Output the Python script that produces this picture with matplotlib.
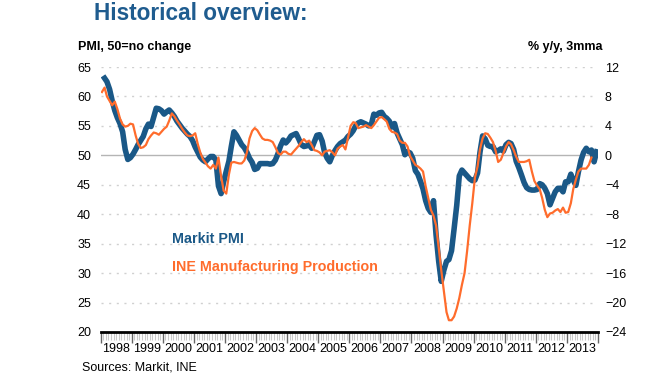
import matplotlib
matplotlib.use('Agg')
import matplotlib.pyplot as plt
import matplotlib.dates as mdates
import matplotlib.transforms as mtransforms
import numpy as np
import pandas as pd

plt.rcParams['font.family'] = ['Liberation Sans', 'DejaVu Sans']

# Markit Spain manufacturing PMI, monthly from Feb 1998
pmi = [63.1, 62.5, 61.2, 59.3, 57.6, 56.4, 55.4, 54.0, 51.0, 49.3,
       49.6, 50.2, 51.0, 51.8, 52.5, 53.2, 54.5, 55.3, 54.9, 56.5,
       58.0, 57.9, 57.6, 57.0, 57.4, 57.7, 57.2, 56.6, 55.8, 55.2,
       54.6, 54.1, 53.6, 53.2, 52.5, 51.4, 50.5, 49.7, 49.2, 48.9,
       49.4, 49.8, 49.8, 49.2, 44.8, 43.5, 45.5, 47.3, 49.0, 51.5,
       54.0, 53.4, 52.6, 51.8, 51.3, 50.5, 49.5, 48.8, 47.6, 47.8,
       48.6, 48.6, 48.6, 48.6, 48.5, 48.6, 49.2, 50.3, 51.6, 52.6,
       52.1, 52.6, 53.3, 53.5, 53.7, 52.8, 51.8, 51.5, 51.6, 51.8,
       51.2, 52.3, 53.4, 53.5, 52.4, 50.5, 49.5, 48.9, 50.0, 50.8,
       51.5, 52.0, 52.3, 52.6, 53.2, 53.6, 54.2, 55.0, 55.5, 55.7,
       55.5, 55.3, 55.0, 55.2, 57.0, 56.8, 57.2, 57.3, 56.6, 56.3,
       55.8, 54.8, 55.4, 53.8, 52.8, 51.8, 50.1, 50.6, 50.4, 49.5,
       47.4, 46.8, 45.6, 44.3, 42.3, 41.0, 40.3, 42.3, 36.5, 32.0,
       28.6, 30.5, 32.0, 32.3, 33.8, 37.5, 41.5, 46.5, 47.5, 47.0,
       46.5, 46.0, 45.7, 45.8, 47.0, 50.5, 53.3, 52.8, 51.7, 51.5,
       51.5, 50.6, 50.8, 51.1, 50.7, 51.8, 52.2, 52.0, 51.0, 49.0,
       47.9, 46.7, 45.4, 44.5, 44.2, 44.1, 44.1, 44.2, 45.2, 45.0,
       44.4, 43.5, 41.6, 42.7, 43.8, 44.4, 44.4, 43.8, 45.5, 45.5,
       46.8, 45.8, 44.9, 47.2, 49.2, 50.5, 51.2, 50.6, 50.9, 48.9, 50.6]

# INE manufacturing production, % y/y 3mma, monthly from Jan 1998
ine = [8.6, 9.2, 8.0, 7.4, 6.8, 7.3, 6.3, 5.0, 4.2, 3.9,
       4.0, 4.3, 4.2, 2.7, 1.6, 1.0, 1.1, 1.4, 2.2, 2.7,
       3.1, 3.0, 2.8, 3.2, 3.6, 3.9, 4.7, 5.7, 5.3, 4.7,
       4.2, 3.6, 3.1, 2.7, 2.6, 2.7, 3.0, 1.5, 0.4, -0.5,
       -1.0, -1.5, -1.8, -1.3, -1.8, -0.3, -2.8, -4.8, -5.2, -2.6,
       -1.0, -0.9, -1.0, -1.1, -1.1, -0.7, 0.4, 2.3, 3.3, 3.7,
       3.4, 2.8, 2.3, 2.1, 2.1, 2.0, 1.8, 1.1, 0.3, 0.1,
       0.5, 0.5, 0.2, 0.1, 0.5, 0.9, 1.3, 1.8, 2.2, 1.8,
       2.0, 1.4, 0.7, 0.6, 0.4, 0.0, 0.5, 0.6, 0.7, 0.4,
       0.0, 0.9, 1.2, 1.4, 0.8, 2.4, 4.0, 4.5, 4.4, 3.7,
       3.8, 3.9, 4.1, 3.9, 3.7, 4.1, 4.6, 5.1, 5.2, 4.9,
       4.6, 3.6, 3.2, 3.1, 2.9, 2.0, 1.7, 1.7, 1.2, -0.1,
       -0.7, -1.3, -1.5, -1.8, -2.2, -4.2, -5.8, -7.4, -8.2, -9.5,
       -12.5, -15.6, -18.5, -21.3, -22.4, -22.4, -21.9, -20.8, -19.4, -17.6,
       -16.0, -13.0, -9.5, -6.5, -3.0, -1.5, 0.8, 2.3, 3.0, 2.9,
       2.4, 1.8, 0.6, -0.9, -0.6, 0.3, 1.2, 1.8, 1.5, 0.7,
       -0.2, -0.9, -0.9, -0.9, -0.8, -0.6, -2.2, -3.5, -4.1, -4.6,
       -5.8, -7.4, -8.4, -7.9, -7.8, -7.5, -7.3, -7.7, -7.1, -7.8,
       -7.7, -6.5, -4.6, -3.3, -2.2, -1.8, -1.8, -1.8, -1.3, -0.3]

years = [str(y) for y in range(1998, 2014)]
left_ticks = [20, 25, 30, 35, 40, 45, 50, 55, 60, 65]
right_ticks = [-24, -20, -16, -12, -8, -4, 0, 4, 8, 12]

c_blue = '#1A5887'
c_orange = '#FF6C2C'
c_title = '#1F5C8F'

pmi_dates = pd.date_range('1998-02-01', periods=len(pmi), freq='MS') + pd.Timedelta(days=15)
ine_dates = pd.date_range('1998-01-01', periods=len(ine), freq='MS') + pd.Timedelta(days=15)

fig = plt.figure(figsize=(6.68, 3.82), dpi=100)
ax = fig.add_axes([0.1507, 0.1309, 0.7445, 0.6937])
ax2 = ax.twinx()

ax.set_ylim(20, 65)
ax2.set_ylim(-24, 12)
ax.set_xlim(pd.Timestamp('1998-01-01'), pd.Timestamp('2014-01-01'))

# grid
for v in left_ticks[1:]:
    if v == 50:
        ax.axhline(v, color='#b5b5b5', lw=1, zorder=1)
    else:
        ax.axhline(v, color='#d0d0d0', lw=1, ls=(0, (1.5, 4)), zorder=1)

ax.plot(pmi_dates, pmi, color=c_blue, lw=4, solid_joinstyle='round', zorder=3)
ax2.plot(ine_dates, ine, color=c_orange, lw=1.6, zorder=3)

for a in (ax, ax2):
    for s in ['top', 'left', 'right']:
        a.spines[s].set_visible(False)
ax2.spines['bottom'].set_visible(False)
ax.spines['bottom'].set_linewidth(2)
ax.spines['bottom'].set_color('black')

ax.set_yticks(left_ticks)
ax.tick_params(axis='y', length=0, labelsize=9, pad=7)
ax2.set_yticks(right_ticks)
ax2.tick_params(axis='y', length=0, labelsize=9, pad=5)

ax.xaxis.set_major_locator(mdates.YearLocator())
ax.xaxis.set_minor_locator(mdates.MonthLocator())
ax.xaxis.set_major_formatter(plt.NullFormatter())
ax.tick_params(axis='x', which='major', length=8, width=1, color='#666666')
ax.tick_params(axis='x', which='minor', length=6, width=0.8, color='#c8c8c8')

trans = mtransforms.blended_transform_factory(ax.transData, fig.transFigure)
for y in years:
    ax.text(pd.Timestamp(f'{y}-07-01'), 1 - 349 / 382, y, transform=trans,
            ha='center', va='center', fontsize=9)

fig.text(94 / 668, 1 - 13 / 382, 'Historical overview:', fontsize=16.3, fontweight='bold',
         color=c_title, ha='left', va='center')
fig.text(78 / 668, 1 - 47 / 382, 'PMI, 50=no change', fontsize=9, fontweight='bold',
         ha='left', va='center')
fig.text(603 / 668, 1 - 47 / 382, '% y/y, 3mma', fontsize=9, fontweight='bold',
         ha='right', va='center')
fig.text(172 / 668, 1 - 239 / 382, 'Markit PMI', fontsize=10.3, fontweight='bold',
         color=c_blue, ha='left', va='center')
fig.text(172 / 668, 1 - 267 / 382, 'INE Manufacturing Production', fontsize=10.3,
         fontweight='bold', color=c_orange, ha='left', va='center')
fig.text(82 / 668, 1 - 368 / 382, 'Sources: Markit, INE', fontsize=9,
         ha='left', va='center')

plt.savefig('out.png', dpi=100, facecolor='white')
